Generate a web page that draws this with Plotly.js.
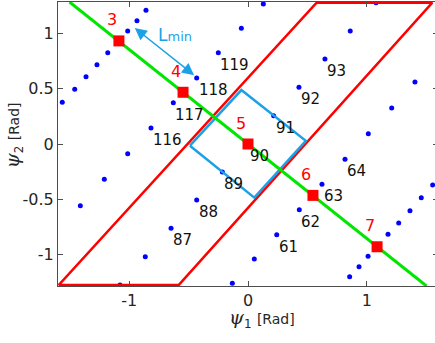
<!DOCTYPE html>
<html>
<head>
<meta charset="utf-8">
<script src="https://cdn.plot.ly/plotly-3.0.1.min.js"></script>
<style>
html,body{margin:0;padding:0;overflow:hidden;background:#fff;}
#chart{width:440px;height:343px;}
</style>
</head>
<body>
<div id="chart"></div>
<script>
// Lattice points (blue dots) with their labels ('' = unlabeled)
const ptX = [
  -1.564,-1.459,-1.364,-1.272,-1.181,-1.091,-1.013,-0.935,-0.859,
   0.856, 0.935, 1.011, 1.091, 1.179, 1.269, 1.364, 1.459, 1.555,
  -0.132, 0.053, 0.242, 0.432, 0.623, 0.817, 1.013, 1.210, 1.406,
  -1.078,-0.865,-0.648,-0.432,-0.216, 0.000, 0.216, 0.429, 0.648, 0.861, 1.078,
  -1.412,-1.210,-1.013,-0.817,-0.629,-0.432,-0.250,-0.056, 0.129
];
const ptY = [
   0.377, 0.495, 0.609, 0.718, 0.826, 0.928, 1.023, 1.116, 1.210,
  -1.201,-1.110,-1.016,-0.919,-0.817,-0.715,-0.604,-0.486,-0.371,
  -1.261,-1.041,-0.821,-0.595,-0.365,-0.138, 0.093, 0.326, 0.561,
  -1.276,-1.020,-0.763,-0.507,-0.253, 0.000, 0.256, 0.513, 0.769, 1.023, 1.279,
  -0.558,-0.319,-0.088, 0.145, 0.374, 0.597, 0.826, 1.047, 1.267
];
const ptLabel = [
  '','','','','','','','','',
  '','','','','','','','','',
  '','','61','62','63','64','','','',
  '','','87','88','89','90','91','92','93','','',
  '','','','116','117','118','119','',''
];

// Red parallelogram (closed)
const parX = [-1.595, -0.584, 1.552, 0.578, -1.595];
const parY = [-1.277, -1.277, 1.279, 1.279, -1.277];

// Blue rectangle (closed)
const recX = [-0.489, -0.056, 0.487, 0.053, -0.489];
const recY = [-0.015, 0.488, 0.029, -0.485, -0.015];

// Green line
const grnX = [-1.503, 1.503];
const grnY = [1.285, -1.285];

// Red squares with labels
const sqX = [-1.087, -0.547, 0.000, 0.547, 1.087];
const sqY = [0.933, 0.468, 0.000, -0.465, -0.930];
const sqLabel = ['3', '4', '5', '6', '7'];

// L_min arrow endpoints
const arrX = [-0.966, -0.454];
const arrY = [1.060, 0.623];
const arrLabelPos = [-0.616, 0.985];

const lightBlue = '#1ba1e6';
const sans = 'DejaVu Sans, Liberation Sans, Arial, sans-serif';

const traces = [
  {x: ptX, y: ptY, mode: 'markers', type: 'scatter',
   marker: {color: '#0000ff', size: 5}, hoverinfo: 'none'},
  {x: parX, y: parY, mode: 'lines', type: 'scatter',
   line: {color: '#ff0000', width: 2.5}, hoverinfo: 'none'},
  {x: recX, y: recY, mode: 'lines', type: 'scatter',
   line: {color: lightBlue, width: 2.5}, hoverinfo: 'none'},
  {x: grnX, y: grnY, mode: 'lines', type: 'scatter',
   line: {color: '#00e600', width: 3}, hoverinfo: 'none'},
  {x: sqX, y: sqY, mode: 'markers', type: 'scatter',
   marker: {color: '#ff0000', size: 11, symbol: 'square'}, hoverinfo: 'none'}
];

const annotations = [];
ptLabel.forEach((t, i) => {
  if (!t) return;
  annotations.push({x: ptX[i], y: ptY[i], text: t, showarrow: false,
    xanchor: 'left', yanchor: 'middle', xshift: 0, yshift: -12,
    font: {family: sans, size: 15, color: '#111111'}});
});
sqLabel.forEach((t, i) => {
  annotations.push({x: sqX[i], y: sqY[i], text: t, showarrow: false,
    xanchor: 'center', yanchor: 'middle', xshift: -7, yshift: 21,
    font: {family: sans, size: 16, color: '#ff0000'}});
});
// double-headed arrow
annotations.push({x: arrX[1], y: arrY[1], ax: arrX[0], ay: arrY[0],
  axref: 'x', ayref: 'y', xref: 'x', yref: 'y', text: '', showarrow: true,
  arrowhead: 2, startarrowhead: 2, arrowside: 'end+start', arrowsize: 1.6,
  startarrowsize: 1.6, arrowwidth: 1.5, arrowcolor: lightBlue});
annotations.push({x: arrLabelPos[0], y: arrLabelPos[1], text: 'L<span style="font-size:13px">min</span>',
  showarrow: false, xanchor: 'center', yanchor: 'middle',
  font: {family: sans, size: 17, color: lightBlue}});
// axis titles
annotations.push({xref: 'paper', yref: 'paper', x: 0.536, y: -0.065, xanchor: 'center', yanchor: 'top',
  text: '<span style="font-family:\'DejaVu Serif\';font-style:italic;font-size:19px">ψ</span><sub>1</sub> <span style="font-size:14px">[Rad]</span>',
  showarrow: false, font: {family: sans, size: 17, color: '#262626'}});
annotations.push({xref: 'paper', yref: 'paper', x: -0.115, y: 0.532, xanchor: 'center', yanchor: 'middle', textangle: -90,
  text: '<span style="font-family:\'DejaVu Serif\';font-style:italic;font-size:19px">ψ</span><sub>2</sub> <span style="font-size:14px">[Rad]</span>',
  showarrow: false, font: {family: sans, size: 17, color: '#262626'}});

const axisCommon = {
  showgrid: false, zeroline: false, showline: true, mirror: 'ticks',
  linecolor: '#4d4d4d', linewidth: 1, ticks: 'inside', ticklen: 5,
  tickcolor: '#4d4d4d', tickwidth: 1,
  tickfont: {family: sans, size: 16, color: '#262626'}
};

const layout = {
  width: 440, height: 343,
  margin: {l: 58, r: 2, t: 2, b: 57},
  paper_bgcolor: '#ffffff', plot_bgcolor: '#ffffff',
  showlegend: false,
  font: {family: sans},
  xaxis: Object.assign({}, axisCommon, {range: [-1.6, 1.6],
    tickvals: [-1, 0, 1], ticktext: ['-1', '0', '1']}),
  yaxis: Object.assign({}, axisCommon, {range: [-1.285, 1.285],
    tickvals: [-1, -0.5, 0, 0.5, 1], ticktext: ['-1', '-0.5', '0', '0.5', '1']}),
  annotations: annotations
};

Plotly.newPlot('chart', traces, layout, {staticPlot: true, displayModeBar: false});
</script>
</body>
</html>
